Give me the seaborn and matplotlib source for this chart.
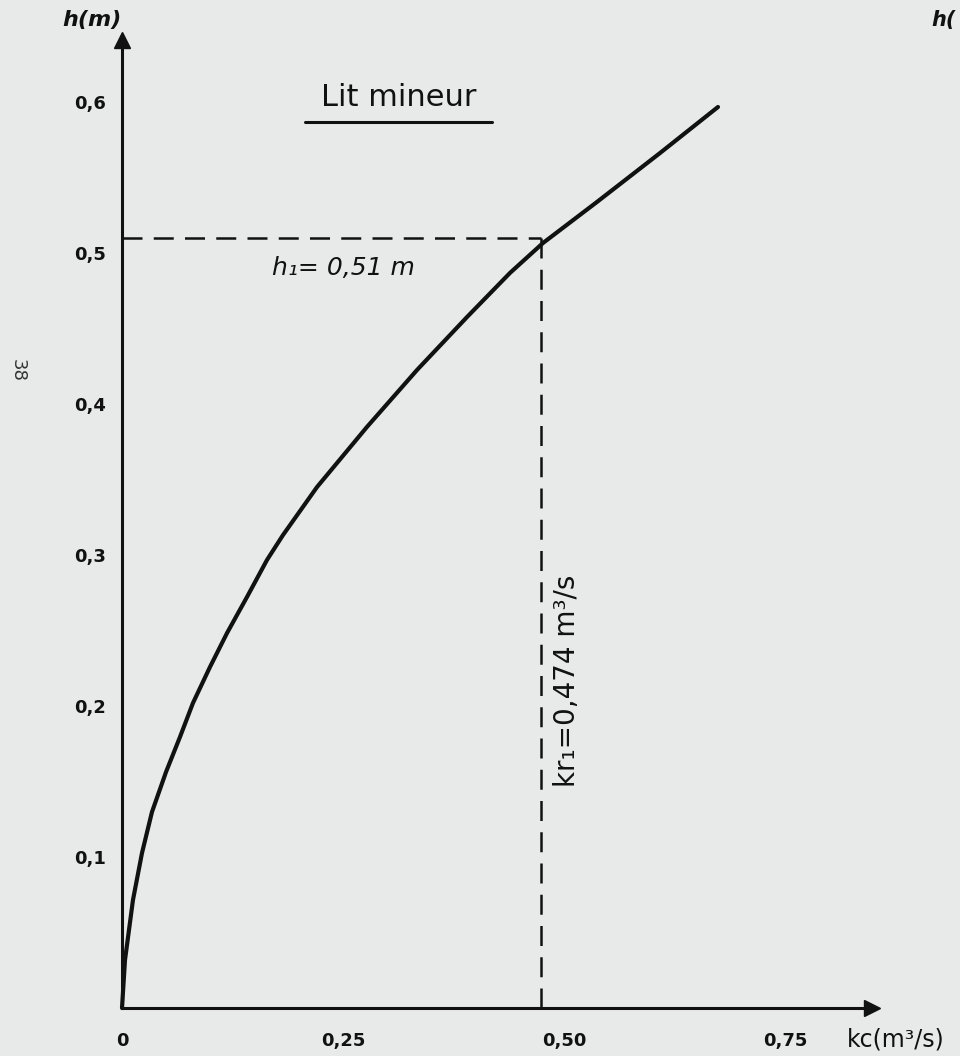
import numpy as np
import pandas as pd
import matplotlib
matplotlib.use("Agg")
import matplotlib.pyplot as plt
import seaborn as sns

# ---- data ----
kc = [0.0, 0.0034, 0.0124, 0.0226, 0.0339, 0.0498, 0.0656, 0.0803, 0.0995,
      0.1188, 0.1414, 0.1640, 0.1821, 0.2206, 0.2771, 0.3337, 0.3903, 0.4389,
      0.4762, 0.5373, 0.6086, 0.6742]
h = [0.0, 0.0318, 0.0715, 0.1026, 0.1298, 0.1563, 0.1795, 0.2020, 0.2258,
     0.2483, 0.2722, 0.2967, 0.3132, 0.3450, 0.3848, 0.4225, 0.4576, 0.4868,
     0.5066, 0.5338, 0.5662, 0.5967]
x_ticks = [0, 0.25, 0.50, 0.75]
x_tick_labels = ["0", "0,25", "0,50", "0,75"]
y_ticks = [0.1, 0.2, 0.3, 0.4, 0.5, 0.6]
y_tick_labels = ["0,1", "0,2", "0,3", "0,4", "0,5", "0,6"]
h1 = 0.51
kc1 = 0.474

paper = "#e8eaea"
ink = "#111111"

sns.set_theme(style="white")
plt.rcParams['font.family'] = ['DejaVu Sans']

fig = plt.figure(figsize=(9.6, 10.56), dpi=100, facecolor=paper)
ax = fig.add_axes([0, 0, 1, 1])
ax.set_facecolor(paper)

# map data to pixel layout: origin at (122,1008), 884 px per unit x, 1510 px per unit y
ax.set_xlim(-122 / 884, (960 - 122) / 884)
ax.set_ylim((1008 - 1056) / 1510, 1008 / 1510)

df = pd.DataFrame({"kc": kc, "h": h})
sns.lineplot(data=df, x="kc", y="h", sort=False, estimator=None,
             color=ink, linewidth=3.0, ax=ax, zorder=3)

# dashed guide lines
ax.plot([0, kc1], [h1, h1], color=ink, lw=1.8, linestyle=(0, (8, 4.5)), zorder=2)
ax.plot([kc1, kc1], [0, h1], color=ink, lw=1.8, linestyle=(0, (8, 4.5)), zorder=2)

# axes through origin
for s in ["top", "right"]:
    ax.spines[s].set_visible(False)
ax.spines["left"].set_position(("data", 0))
ax.spines["bottom"].set_position(("data", 0))
y_top = (1008 - 40) / 1510
x_right = (872 - 122) / 884
ax.spines["left"].set_bounds(0, y_top)
ax.spines["bottom"].set_bounds(0, x_right)
for s in ["left", "bottom"]:
    ax.spines[s].set_color(ink)
    ax.spines[s].set_linewidth(2.2)
# arrowheads
ax.plot([0], [y_top], marker="^", markersize=11, color=ink, clip_on=False, zorder=4)
ax.plot([x_right], [0], marker=">", markersize=11, color=ink, clip_on=False, zorder=4)

ax.set_xticks(x_ticks)
ax.set_xticklabels(x_tick_labels)
ax.set_yticks(y_ticks)
ax.set_yticklabels(y_tick_labels)
ax.tick_params(axis="both", direction="inout", length=7, width=1.6, color=ink,
               labelcolor=ink, labelsize=13)
ax.tick_params(axis="x", pad=14)
ax.tick_params(axis="y", pad=8)
for lab in ax.get_xticklabels() + ax.get_yticklabels():
    lab.set_fontweight("bold")
ax.set_xlabel("")
ax.set_ylabel("")

# axis titles
ax.text(-0.034, 0.654, "h(m)", fontsize=16, fontweight="bold", style="italic",
        ha="center", va="center", color=ink)
ax.text(0.875, -0.021, "kc(m³/s)", fontsize=17, ha="center", va="center", color=ink)

# annotations
ax.text(0.313, 0.603, "Lit mineur", fontsize=22, ha="center", va="center", color=ink)
ax.plot([0.207, 0.419], [0.587, 0.587], color=ink, lw=2.2)
ax.text(0.170, 0.490, "h₁= 0,51 m", fontsize=18, style="italic", ha="left",
        va="center", color=ink)
ax.text(0.503, 0.217, "kr₁=0,474 m³/s", fontsize=20, rotation=90,
        ha="center", va="center", color=ink)

# page number and partial neighbouring label from the scan
ax.text(-0.118, 0.4225, "38", fontsize=13, rotation=-90, ha="center",
        va="center", color="#333333")
ax.text(0.916, 0.654, "h(", fontsize=15, fontweight="bold", style="italic",
        ha="left", va="center", color=ink)

fig.savefig("out.png", dpi=100, facecolor=paper)
